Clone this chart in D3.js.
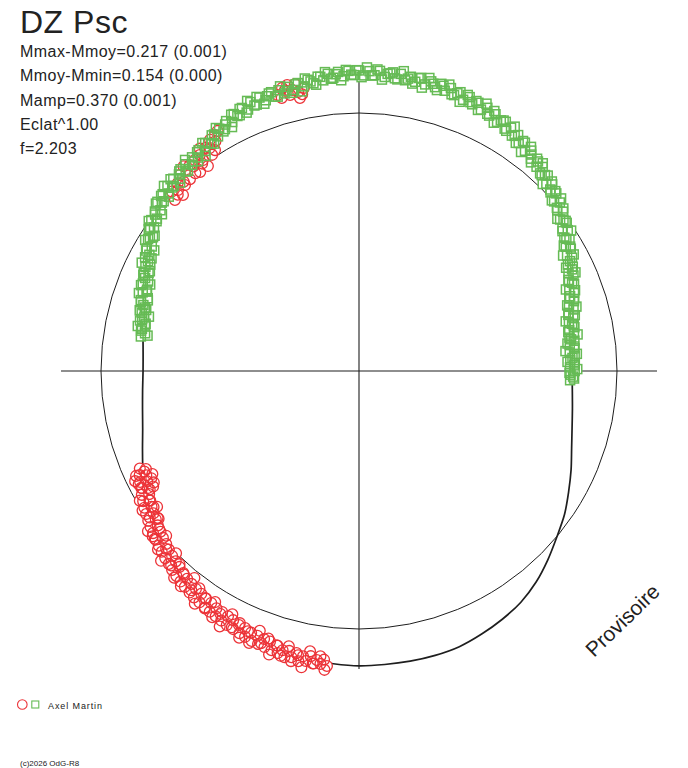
<!DOCTYPE html>
<html><head><meta charset="utf-8">
<script src="https://cdn.jsdelivr.net/npm/d3@7"></script>
<style>body{margin:0;background:#fff} svg{display:block}</style>
</head><body>
<script>
// ---- text ----
const title = "DZ Psc";
const infoLines = ["Mmax-Mmoy=0.217 (0.001)", "Mmoy-Mmin=0.154 (0.000)", "Mamp=0.370 (0.001)", "Eclat^1.00", "f=2.203"];
const observer = "Axel Martin";
const credit = "(c)2026 OdG-R8";
const stamp = "Provisoire";

// ---- model curve (angle in degrees clockwise from top, polar radius; reference circle = 1) ----
const modelAngle = [0,5,10,15,20,25,30,35,40,45,50,55,60,65,70,75,80,85,90,95,100,105,110,115,120,125,130,135,140,145,150,155,160,165,170,175,180,185,190,195,200,205,210,215,220,225,230,235,240,245,250,255,260,265,270,275,280,285,290,295,300,305,310,315,320,325,330,335,340,345,350,355];
const modelR = [1.155,1.153,1.150,1.149,1.138,1.127,1.110,1.088,1.063,1.036,1.005,0.972,0.937,0.905,0.876,0.848,0.835,0.828,0.826,0.830,0.840,0.855,0.877,0.907,0.938,0.972,1.001,1.035,1.068,1.094,1.111,1.125,1.137,1.141,1.142,1.142,1.143,1.139,1.136,1.129,1.116,1.103,1.089,1.074,1.056,1.034,1.010,0.985,0.956,0.924,0.893,0.868,0.852,0.842,0.837,0.840,0.850,0.865,0.885,0.906,0.942,0.978,1.008,1.024,1.034,1.050,1.075,1.103,1.118,1.121,1.135,1.150];

// ---- observations, set 1 (red circles) ----
const redAngle = [186.2,186.9,187.5,188.3,189.0,189.6,190.4,191.1,191.8,192.5,193.3,194.0,194.6,195.3,196.1,196.7,197.4,198.2,198.9,199.5,200.3,201.0,201.7,202.4,203.2,203.9,204.5,205.3,206.0,206.8,207.5,208.1,208.9,209.6,210.3,211.0,211.8,212.5,213.1,213.9,214.6,215.3,216.1,216.8,217.4,218.2,218.9,219.6,220.3,221.0,221.7,222.5,223.2,223.9,224.6,225.3,226.0,226.8,227.5,228.1,228.9,229.6,230.3,231.0,231.8,232.5,233.2,233.9,234.6,235.3,236.1,236.8,237.5,238.2,238.9,239.6,240.3,241.0,241.8,242.5,243.1,243.9,244.6,245.3,246.0,241.5,243.5,244.8,242.8,240.7,236.5,233.6,231.3,
  186.6,187.7,188.8,189.9,191.0,192.1,193.2,194.3,195.4,196.5,197.6,198.7,199.8,200.9,202.0,203.1,204.2,205.3,206.4,207.5,208.6,209.7,210.8,211.9,213.0,214.1,215.2,216.3,217.4,218.5,219.6,220.7,221.8,222.9,224.0,225.1,226.2,227.3,228.4,229.5,230.6,231.7,232.8,233.9,235.0,236.1,237.2,238.3,239.4,240.5,241.6,242.7,243.8,244.9,
  327.2,325.4,328.6,323.6,322.1,320.6,323.6,318.6,316.9,317.6,315.0,312.9,315.0,321.4,325.8,323.5,326.9,329.5,328.0,326.2,324.4,322.9,321.0,319.4,317.2,314.2,313.8,316.0,320.4,
  344.8,346.0,347.7,347.8,345.9,347.4,343.6,345.2,346.6,348.4,344.2,349.0];
const redR = [1.150,1.127,1.145,1.132,1.148,1.121,1.143,1.127,1.149,1.120,1.140,1.118,1.146,1.122,1.138,1.110,1.134,1.104,1.131,1.102,1.128,1.099,1.126,1.097,1.121,1.090,1.117,1.089,1.113,1.082,1.110,1.078,1.105,1.074,1.101,1.073,1.098,1.066,1.094,1.063,1.089,1.058,1.086,1.055,1.081,1.050,1.075,1.045,1.070,1.038,1.064,1.030,1.058,1.024,1.050,1.019,1.044,1.011,1.037,1.004,1.030,0.998,1.024,0.990,1.016,0.983,1.009,0.975,1.002,0.969,0.994,0.961,0.986,0.952,0.977,0.943,0.969,0.936,0.958,0.926,0.951,0.918,0.941,0.909,0.930,0.905,0.895,0.955,0.960,0.915,0.955,0.965,1.025,
  1.166,1.116,1.147,1.103,1.170,1.127,1.155,1.101,1.145,1.111,1.153,1.095,1.121,1.078,1.137,1.097,1.133,1.081,1.109,1.063,1.128,1.084,1.111,1.055,1.097,1.063,1.104,1.045,1.070,1.025,1.083,1.041,1.075,1.022,1.048,1.001,1.063,1.017,1.042,0.983,1.024,0.987,1.027,0.966,0.990,0.943,0.998,0.955,0.987,0.932,0.956,0.906,0.967,0.919,
  1.066,1.050,1.072,1.040,1.036,1.033,0.987,0.991,0.987,1.029,0.992,0.974,0.965,0.987,1.013,1.017,1.022,1.080,1.050,1.040,1.060,1.008,1.020,1.045,1.000,0.980,1.005,1.012,0.995,
  1.137,1.103,1.107,1.083,1.143,1.140,1.115,1.125,1.120,1.095,1.100,1.118];

// ---- observations, set 2 (green squares) ----
const greenAngle = [279,280,281,282,283,284,285,286,287,288,289,290,291,292,293,294,295,296,297,298,299,300,301,302,303,304,305,306,307,308,309,310,311,312,313,314,315,316,317,318,319,320,321,322,323,324,325,326,327,328,329,330,331,332,333,334,335,336,337,338,339,340,341,342,343,344,345,346,347,348,349,350,351,352,353,354,355,356,357,358,359,
  0,1,2,3,4,5,6,7,8,9,10,11,12,13,14,15,16,17,18,19,20,21,22,23,24,25,26,27,28,29,30,31,32,33,34,35,36,37,38,39,40,41,42,43,44,45,46,47,48,49,50,51,52,53,54,55,56,57,58,59,60,61,62,63,64,65,66,67,68,69,70,71,72,73,74,75,76,77,78,79,80,81,82,83,84,85,86,87,88,89,90,91,92,
  279.5,280.5,281.5,282.5,283.5,284.5,285.5,286.5,287.5,288.5,289.5,290.5,291.5,292.5,293.5,294.5,295.5,296.5,297.5,298.5,299.5,300.5,301.5,302.5,303.5,304.5,305.5,306.5,307.5,308.5,309.5,310.5,311.5,312.5,313.5,314.5,315.5,316.5,317.5,318.5,319.5,320.5,321.5,322.5,323.5,324.5,325.5,326.5,327.5,328.5,329.5,330.5,331.5,332.5,333.5,334.5,335.5,336.5,337.5,338.5,339.5,340.5,341.5,342.5,343.5,344.5,345.5,346.5,347.5,348.5,349.5,350.5,351.5,352.5,353.5,354.5,355.5,356.5,357.5,358.5,359.5,
  0.5,1.5,2.5,3.5,4.5,5.5,6.5,7.5,8.5,9.5,10.5,11.5,12.5,13.5,14.5,15.5,16.5,17.5,18.5,19.5,20.5,21.5,22.5,23.5,24.5,25.5,26.5,27.5,28.5,29.5,30.5,31.5,32.5,33.5,34.5,35.5,36.5,37.5,38.5,39.5,40.5,41.5,42.5,43.5,44.5,45.5,46.5,47.5,48.5,49.5,50.5,51.5,52.5,53.5,54.5,55.5,56.5,57.5,58.5,59.5,60.5,61.5,62.5,63.5,64.5,65.5,66.5,67.5,68.5,69.5,70.5,71.5,72.5,73.5,74.5,75.5,76.5,77.5,78.5,79.5,80.5,81.5,82.5,83.5,84.5,85.5,86.5,87.5,88.5,89.5,90.5,91.5,92.5];
const greenR = [0.856,0.842,0.857,0.848,0.871,0.858,0.872,0.858,0.874,0.889,0.866,0.892,0.880,0.904,0.888,0.915,0.900,0.921,0.908,0.939,0.929,0.950,0.937,0.964,0.952,0.983,0.970,0.995,0.981,1.004,0.990,1.020,1.003,1.024,1.009,1.032,1.015,1.036,1.019,1.041,1.024,1.046,1.028,1.051,1.036,1.058,1.041,1.066,1.050,1.077,1.061,1.084,1.072,1.097,1.083,1.108,1.094,1.116,1.101,1.124,1.106,1.128,1.110,1.131,1.112,1.132,1.114,1.135,1.118,1.141,1.124,1.146,1.129,1.152,1.135,1.158,1.141,1.162,1.144,1.164,1.147,
  1.165,1.146,1.163,1.148,1.166,1.144,1.160,1.143,1.163,1.141,1.158,1.142,1.161,1.140,1.157,1.139,1.158,1.136,1.153,1.131,1.150,1.126,1.145,1.123,1.138,1.118,1.135,1.111,1.127,1.104,1.121,1.096,1.112,1.088,1.103,1.079,1.094,1.069,1.084,1.059,1.074,1.049,1.064,1.038,1.053,1.027,1.041,1.015,1.029,1.002,1.016,0.989,1.003,0.976,0.990,0.963,0.976,0.949,0.962,0.935,0.948,0.922,0.935,0.909,0.922,0.896,0.910,0.884,0.899,0.873,0.887,0.862,0.876,0.851,0.865,0.840,0.856,0.835,0.851,0.830,0.846,0.826,0.843,0.823,0.840,0.820,0.838,0.820,0.837,0.818,0.836,0.820,0.834,
  0.831,0.859,0.875,0.847,0.864,0.841,0.882,0.866,0.886,0.863,0.905,0.879,0.908,0.876,0.904,0.917,0.898,0.941,0.922,0.915,0.948,0.921,0.972,0.961,0.950,0.982,1.001,0.976,0.996,0.976,1.020,1.005,1.024,1.000,1.042,1.015,1.042,1.007,1.033,1.044,1.021,1.060,1.037,1.025,1.055,1.024,1.072,1.059,1.045,1.075,1.093,1.067,1.087,1.066,1.110,1.095,1.116,1.092,1.133,1.106,1.134,1.099,1.123,1.133,1.109,1.145,1.121,1.109,1.138,1.106,1.153,1.138,1.122,1.150,1.166,1.138,1.154,1.129,1.168,1.149,1.166,
  1.139,1.177,1.146,1.171,1.133,1.157,1.165,1.140,1.175,1.149,1.133,1.159,1.125,1.168,1.150,1.130,1.153,1.164,1.131,1.142,1.114,1.150,1.128,1.141,1.112,1.148,1.114,1.136,1.095,1.116,1.121,1.092,1.123,1.093,1.073,1.095,1.056,1.095,1.072,1.048,1.068,1.075,1.039,1.047,1.016,1.048,1.022,1.032,0.998,1.030,0.994,1.012,0.969,0.986,0.989,0.957,0.986,0.953,0.931,0.950,0.909,0.947,0.922,0.897,0.915,0.922,0.885,0.894,0.862,0.894,0.868,0.879,0.846,0.879,0.843,0.864,0.824,0.846,0.852,0.825,0.859,0.831,0.815,0.839,0.804,0.847,0.829,0.809,0.834,0.846,0.816,0.830,0.819];

const axisExtent = 1.155;

// ---- drawing ----
const W = 688, H = 768;
const cx = 359, cy = 371;
const font = "'Liberation Sans', Arial, sans-serif";
const RED = "#ec3338", GREEN = "#66bb55", INK = "#1e1e1e";

const svg = d3.select("body").append("svg").attr("width", W).attr("height", H)
  .style("font-family", font);

const rad = d3.scaleLinear().domain([0, 1]).range([0, 258]);
const ang = d3.scaleLinear().domain([0, 360]).range([0, 2 * Math.PI]);

const g = svg.append("g").attr("transform", `translate(${cx},${cy})`);

// reference circle
g.append("circle").attr("r", rad(1)).attr("fill", "none").attr("stroke", INK).attr("stroke-width", 1);

// axes
g.append("line").attr("x1", -rad(axisExtent)).attr("x2", rad(axisExtent)).attr("y1", 0).attr("y2", 0)
  .attr("stroke", INK).attr("stroke-width", 1.1);
g.append("line").attr("y1", -rad(axisExtent)).attr("y2", rad(axisExtent)).attr("x1", 0).attr("x2", 0)
  .attr("stroke", INK).attr("stroke-width", 1.1);

// model curve
const model = modelAngle.map((a, i) => ({ a, r: modelR[i] }));
const radial = d3.lineRadial().angle(d => ang(d.a)).radius(d => rad(d.r)).curve(d3.curveCardinalClosed.tension(0.2));
g.append("path").attr("d", radial(model)).attr("fill", "none").attr("stroke", INK).attr("stroke-width", 1.7);

const reds = redAngle.map((a, i) => d3.pointRadial(ang(a), rad(redR[i])));
const greens = greenAngle.map((a, i) => d3.pointRadial(ang(a), rad(greenR[i])));
const s = 9, cr = 5.4;

// white backing under the markers
const mask = g.append("g").attr("fill", "#fff");
mask.selectAll("circle").data(reds).join("circle").attr("cx", d => d[0]).attr("cy", d => d[1]).attr("r", cr);
mask.selectAll("rect").data(greens).join("rect")
  .attr("x", d => d[0] - s / 2).attr("y", d => d[1] - s / 2).attr("width", s).attr("height", s);

// red circles
g.append("g").selectAll("circle").data(reds).join("circle")
  .attr("cx", d => d[0]).attr("cy", d => d[1]).attr("r", cr)
  .attr("fill", "none").attr("stroke", RED).attr("stroke-width", 1.3);

// green squares
g.append("g").selectAll("rect").data(greens).join("rect")
  .attr("x", d => d[0] - s / 2).attr("y", d => d[1] - s / 2).attr("width", s).attr("height", s)
  .attr("fill", "none").attr("stroke", GREEN).attr("stroke-width", 1.5);

// title & info
svg.append("text").attr("x", 20).attr("y", 33).attr("font-size", 32).attr("fill", "#222")
  .attr("letter-spacing", 0.5).text(title);
svg.append("g").selectAll("text").data(infoLines).join("text")
  .attr("x", 20).attr("y", (d, i) => 57 + i * 24.3).attr("font-size", 16).attr("letter-spacing", 0.45)
  .attr("fill", "#222").text(d => d);

// legend
svg.append("circle").attr("cx", 22.3).attr("cy", 704.5).attr("r", 4.8).attr("fill", "none").attr("stroke", RED).attr("stroke-width", 1.1);
svg.append("rect").attr("x", 31.8).attr("y", 701).attr("width", 7).attr("height", 7).attr("fill", "none").attr("stroke", GREEN).attr("stroke-width", 1.1);
svg.append("text").attr("x", 48).attr("y", 709).attr("font-size", 9).attr("letter-spacing", 0.9).attr("fill", "#222").text(observer);

// credit
svg.append("text").attr("x", 20).attr("y", 766).attr("font-size", 8).attr("fill", "#222").text(credit);

// stamp
svg.append("text").attr("transform", "translate(594,658) rotate(-44)").attr("font-size", 21)
  .attr("fill", "#222").text(stamp);
</script>
</body></html>
